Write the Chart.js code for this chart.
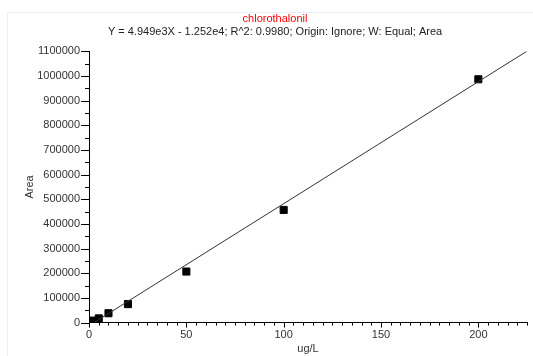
<!DOCTYPE html>
<html>
<head>
<meta charset="utf-8">
<script src="https://cdn.jsdelivr.net/npm/chart.js@4.4.1/dist/chart.umd.min.js"></script>
<style>
  body { margin: 0; background: #fff; }
  #wrap { position: relative; width: 533px; height: 356px; overflow: hidden; }
  #frame { position: absolute; left: 7px; top: 12px; width: 600px; height: 400px; border: 1px solid #e9f0f7; }
  canvas { position: absolute; left: 0; top: 0; }
</style>
</head>
<body>
<div id="wrap">
  <div id="frame"></div>
  <canvas id="myChart" width="533" height="356"></canvas>
</div>
<script>
// calibration points (ug/L vs Area)
var conc = [2, 5, 10, 20, 50, 100, 200]
var area = [8000, 17000, 38000, 75000, 207000, 457000, 987000]

// fitted line from the header
var slope = 4949
var intercept = -12520
var xMax = 225

var titleText = "chlorothalonil"
var subText = "Y = 4.949e3X - 1.252e4; R^2: 0.9980; Origin: Ignore; W: Equal; Area"

var points = []
for (var i = 0; i < conc.length; i++) {
    points.push({x: conc[i], y: area[i]})
}
var x0 = -intercept / slope
var fitLine = [{x: x0, y: 0}, {x: xMax, y: slope * xMax + intercept}]

var fontFam = "'Liberation Sans', Arial, sans-serif"

// draw major/minor tick marks with different lengths
var tickMarks = {
    id: 'tickMarks',
    afterDraw: function(chart) {
        var ctx = chart.ctx
        var xs = chart.scales.x
        var ys = chart.scales.y
        ctx.save()
        ctx.strokeStyle = '#000'
        ctx.lineWidth = 1
        ctx.beginPath()
        xs.ticks.forEach(function(t) {
            var px = Math.round(xs.getPixelForValue(t.value)) + 0.5
            var len = t.value % 50 === 0 ? 5 : 3
            ctx.moveTo(px, xs.top)
            ctx.lineTo(px, xs.top + len)
        })
        ys.ticks.forEach(function(t) {
            var py = Math.round(ys.getPixelForValue(t.value)) + 0.5
            var len = t.value % 100000 === 0 ? 8 : 4
            ctx.moveTo(ys.right, py)
            ctx.lineTo(ys.right - len, py)
        })
        ctx.stroke()
        ctx.restore()
    }
}

var chart = new Chart(document.getElementById("myChart").getContext('2d'), {
    type: 'scatter',
    data: {
        datasets: [
            {
                type: 'line',
                data: fitLine,
                borderColor: '#333',
                borderWidth: 1,
                pointRadius: 0,
                fill: false
            },
            {
                data: points,
                pointStyle: 'rect',
                pointRadius: 5,
                pointBorderWidth: 1,
                backgroundColor: '#000',
                borderColor: '#000'
            }
        ]
    },
    options: {
        responsive: false,
        animation: false,
        layout: {padding: {left: 23, right: 6, top: 0, bottom: 0}},
        plugins: {
            legend: {display: false},
            tooltip: {enabled: false},
            title: {
                display: true,
                text: titleText,
                color: '#ff0000',
                font: {family: fontFam, size: 11, weight: 'normal'},
                padding: {top: 12, bottom: 0}
            },
            subtitle: {
                display: true,
                text: subText,
                color: '#222',
                font: {family: fontFam, size: 11},
                padding: {top: 0, bottom: 13}
            }
        },
        scales: {
            x: {
                type: 'linear',
                min: 0,
                max: xMax,
                border: {display: true, color: '#000', width: 1},
                grid: {drawOnChartArea: false, tickLength: 5, tickColor: 'rgba(0,0,0,0)'},
                ticks: {
                    stepSize: 5,
                    autoSkip: false,
                    maxRotation: 0,
                    color: '#333',
                    padding: 1,
                    font: {family: fontFam, size: 11},
                    callback: function(v) { return v % 50 === 0 ? v : '' }
                },
                title: {
                    display: true,
                    text: 'ug/L',
                    color: '#333',
                    font: {family: fontFam, size: 11},
                    padding: {top: 0, bottom: 0}
                }
            },
            y: {
                type: 'linear',
                min: 0,
                max: 1100000,
                border: {display: true, color: '#000', width: 1},
                grid: {drawOnChartArea: false, tickLength: 8, tickColor: 'rgba(0,0,0,0)'},
                ticks: {
                    stepSize: 50000,
                    autoSkip: false,
                    color: '#333',
                    padding: 1,
                    font: {family: fontFam, size: 11},
                    callback: function(v) { return v % 100000 === 0 ? v : '' }
                },
                title: {
                    display: true,
                    text: 'Area',
                    color: '#333',
                    font: {family: fontFam, size: 11},
                    padding: {top: 0, bottom: 0}
                }
            }
        }
    },
    plugins: [tickMarks]
})
</script>
</body>
</html>
